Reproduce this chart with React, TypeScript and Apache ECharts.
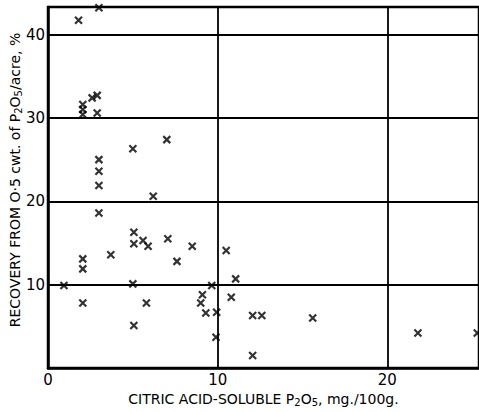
import React, { useEffect, useRef } from "react";
import * as echarts from "echarts";

const citricP2O5 = [1.8, 3.0, 2.05, 2.05, 2.05, 2.6, 2.9, 2.9, 5.0, 7.0, 3.0, 3.0, 3.0, 6.2, 3.0, 5.06, 5.06, 5.6, 5.9, 7.06, 8.5, 3.7, 2.05, 2.05, 10.5, 7.6, 11.06, 0.94, 5.0, 9.65, 9.1, 9.0, 10.8, 2.05, 5.8, 9.3, 9.94, 12.06, 12.6, 15.6, 5.06, 9.9, 21.8, 25.3, 12.06];
const recoveryPct = [41.7, 43.2, 31.6, 31.0, 30.4, 32.4, 32.7, 30.6, 26.3, 27.4, 25.0, 23.6, 21.9, 20.6, 18.6, 16.3, 14.9, 15.3, 14.6, 15.5, 14.6, 13.6, 13.1, 11.9, 14.1, 12.8, 10.7, 9.9, 10.1, 9.9, 8.8, 7.8, 8.5, 7.8, 7.8, 6.6, 6.7, 6.3, 6.3, 6.0, 5.1, 3.7, 4.2, 4.2, 1.5];
const xTicks = [0, 10, 20];
const yTicks = [10, 20, 30, 40];

const FONT = "DejaVu Sans";

export default function App() {
  const ref = useRef<HTMLDivElement>(null);
  useEffect(() => {
    const chart = echarts.init(ref.current!, null, { renderer: "svg" });
    const data = citricP2O5.map((x, i) => [x, recoveryPct[i]]);
    chart.setOption({
      animation: false,
      backgroundColor: "#fff",
      grid: {
        left: 48,
        right: -2,
        top: 7,
        bottom: 35,
        show: true,
        borderColor: "#000",
        borderWidth: 2.5,
      },
      xAxis: {
        type: "value",
        min: 0,
        max: 25.4,
        interval: 10,
        axisLine: { show: true, lineStyle: { color: "#000", width: 2.5 } },
        axisTick: { show: false },
        splitLine: { show: true, lineStyle: { color: "#000", width: 1.8 } },
        axisLabel: {
          showMaxLabel: false,
          margin: 4,
          color: "#000",
          fontFamily: FONT,
          fontSize: 15,
          formatter: (v: number) => (xTicks.includes(v) ? String(v) : ""),
        },
        name: "{t|CITRIC ACID-SOLUBLE P}{s|2}{t|O}{s|5}{t|, mg./100g.}",
        nameLocation: "middle",
        nameGap: 21,
        nameTextStyle: {
          rich: {
            t: { fontFamily: FONT, fontSize: 14, color: "#000" },
            s: { fontFamily: FONT, fontSize: 10, color: "#000", padding: [6, 0, 0, 0] },
          },
        },
      },
      yAxis: {
        type: "value",
        min: 0,
        max: 43.3,
        interval: 10,
        axisLine: { show: true, lineStyle: { color: "#000", width: 2.5 } },
        axisTick: { show: false },
        splitLine: { show: true, lineStyle: { color: "#000", width: 1.8 } },
        axisLabel: {
          showMinLabel: false,
          showMaxLabel: false,
          margin: 3,
          color: "#000",
          fontFamily: FONT,
          fontSize: 15,
          formatter: (v: number) => (yTicks.includes(v) ? String(v) : ""),
        },
      },
      graphic: [
        {
          type: "text",
          x: 15,
          y: 180,
          rotation: Math.PI / 2,
          style: {
            text: "{t|RECOVERY FROM O·5 cwt. of P}{s|2}{t|O}{s|5}{t|/acre, %}",
            align: "center",
            verticalAlign: "middle",
            rich: {
              t: { fontFamily: FONT, fontSize: 14, fill: "#000" },
              s: { fontFamily: FONT, fontSize: 10, fill: "#000", padding: [6, 0, 0, 0] },
            },
          },
        },
      ],
      series: [
        {
          type: "scatter",
          data,
          symbol: "path://M0,0L10,10M10,0L0,10",
          symbolSize: 7,
          itemStyle: { color: "none", borderColor: "#000", borderWidth: 2.2 },
          clip: false,
        },
      ],
    });
    return () => chart.dispose();
  }, []);
  return (
    <div
      ref={ref}
      style={{ position: "fixed", left: 0, top: 0, width: 479, height: 412 }}
    />
  );
}
